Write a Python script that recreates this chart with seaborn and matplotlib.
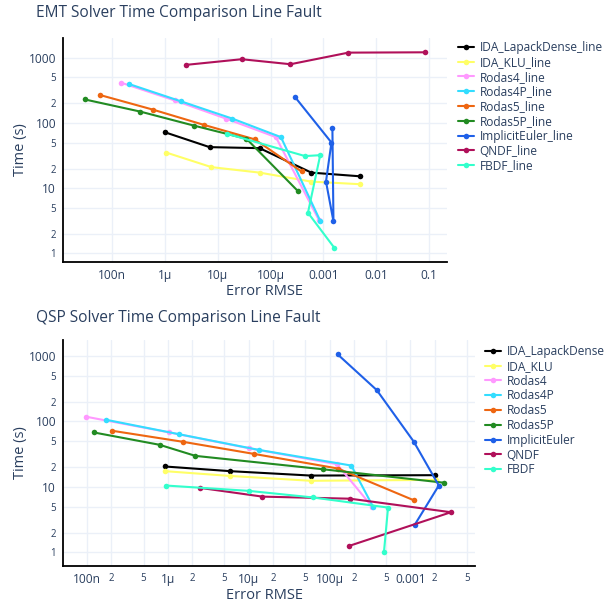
import matplotlib
matplotlib.use("Agg")
import matplotlib.pyplot as plt
import seaborn as sns
import pandas as pd
import numpy as np
from matplotlib.ticker import NullLocator

# ---------------- data ----------------
solvers = ["IDA_LapackDense", "IDA_KLU", "Rodas4", "Rodas4P", "Rodas5",
           "Rodas5P", "ImplicitEuler", "QNDF", "FBDF"]

# EMT (top)
emt_x = {
    "IDA_LapackDense": [9.9e-7, 7.0e-6, 6.2e-5, 5.9e-4, 4.9e-3],
    "IDA_KLU":         [1.07e-6, 7.6e-6, 6.2e-5, 5.9e-4, 4.9e-3],
    "Rodas4":          [1.5e-7, 1.52e-6, 1.44e-5, 1.26e-4, 8.3e-4],
    "Rodas4P":         [2.1e-7, 2.0e-6, 1.9e-5, 1.57e-4, 8.8e-4],
    "Rodas5":          [5.9e-8, 5.85e-7, 5.5e-6, 5.0e-5, 3.85e-4],
    "Rodas5P":         [3.0e-8, 3.4e-7, 3.5e-6, 3.5e-5, 3.3e-4],
    "ImplicitEuler":   [2.9e-4, 1.42e-3, 1.12e-3, 1.55e-3, 1.48e-3],
    "QNDF":            [2.5e-6, 2.84e-5, 2.38e-4, 2.97e-3, 0.084],
    "FBDF":            [1.5e-5, 4.5e-4, 8.7e-4, 5.1e-4, 1.61e-3],
}
emt_y = {
    "IDA_LapackDense": [72, 42.5, 41, 17.3, 15.2],
    "IDA_KLU":         [35, 21, 17.3, 12.6, 11.5],
    "Rodas4":          [411, 221, 116, 60.5, 3.2],
    "Rodas4P":         [393, 214, 116, 60.5, 3.1],
    "Rodas5":          [267, 160, 93, 56, 18],
    "Rodas5P":         [229, 149, 91, 57, 9.0],
    "ImplicitEuler":   [249, 50, 12.6, 3.1, 84],
    "QNDF":            [773, 944, 791, 1191, 1205],
    "FBDF":            [68, 31, 32, 4.2, 1.22],
}

# QSP (bottom)
qsp_x = {
    "IDA_LapackDense": [9.2e-7, 5.9e-6, 5.85e-5, 2.0e-3],
    "IDA_KLU":         [9.2e-7, 5.9e-6, 5.85e-5, 2.1e-3],
    "Rodas4":          [9.8e-8, 1.04e-6, 1.0e-5, 1.24e-4, 3.36e-4],
    "Rodas4P":         [1.73e-7, 1.36e-6, 1.33e-5, 1.86e-4, 3.45e-4],
    "Rodas5":          [2.06e-7, 1.52e-6, 1.15e-5, 1.27e-4, 1.12e-3],
    "Rodas5P":         [1.21e-7, 7.9e-7, 2.19e-6, 8.3e-5, 2.58e-3],
    "ImplicitEuler":   [1.26e-4, 3.84e-4, 1.1e-3, 2.25e-3, 1.13e-3],
    "QNDF":            [2.52e-6, 1.48e-5, 1.80e-4, 3.18e-3, 1.74e-4],
    "FBDF":            [9.4e-7, 1.0e-5, 6.2e-5, 5.3e-4, 4.72e-4],
}
qsp_y = {
    "IDA_LapackDense": [20.5, 17.4, 14.9, 15.1],
    "IDA_KLU":         [17.4, 14.7, 12.4, 12.8],
    "Rodas4":          [118, 68, 39, 22.2, 5.0],
    "Rodas4P":         [106, 64, 36.8, 21.2, 5.0],
    "Rodas5":          [72, 49, 32, 19.1, 6.2],
    "Rodas5P":         [68, 44, 29.8, 18.6, 11.6],
    "ImplicitEuler":   [1061, 302, 49.4, 10.5, 2.62],
    "QNDF":            [9.65, 7.1, 6.6, 4.1, 1.25],
    "FBDF":            [10.5, 8.7, 6.9, 4.83, 1.02],
}

colors = ["#000000", "#ffff66", "#ff99ff", "#33ddff", "#ee6611",
          "#228b22", "#1f60e8", "#b0105a", "#33ffcc"]

y_ticks = [1, 2, 5, 10, 20, 50, 100, 200, 500, 1000]
y_labels = ["1", "2", "5", "10", "2", "5", "100", "2", "5", "1000"]
top_x_ticks = [1e-7, 1e-6, 1e-5, 1e-4, 1e-3, 1e-2, 1e-1]
top_x_labels = ["100n", "1μ", "10μ", "100μ", "0.001", "0.01", "0.1"]
bot_x_ticks = [1e-7, 2e-7, 5e-7, 1e-6, 2e-6, 5e-6, 1e-5, 2e-5, 5e-5,
               1e-4, 2e-4, 5e-4, 1e-3, 2e-3, 5e-3]
bot_x_labels = ["100n", "2", "5", "1μ", "2", "5", "10μ", "2", "5",
                "100μ", "2", "5", "0.001", "2", "5"]

def to_df(xd, yd, suffix):
    rows = []
    for s in solvers:
        for i, (xv, yv) in enumerate(zip(xd[s], yd[s])):
            rows.append({"solver": s + suffix, "order": i, "err": xv, "time": yv})
    return pd.DataFrame(rows)

df_top = to_df(emt_x, emt_y, "_line")
df_bot = to_df(qsp_x, qsp_y, "")

# ---------------- style ----------------
sns.set_theme(style="white")
plt.rcParams["font.family"] = ["Open Sans", "DejaVu Sans"]
TXT = "#2a3f5f"
GRID = "#ebf0f8"

fig = plt.figure(figsize=(6.09, 6.07), dpi=100)
W, H = 609, 607
ax1 = fig.add_axes([63 / W, 1 - 262 / H, 384 / W, 224 / H])
ax2 = fig.add_axes([63 / W, 1 - 566 / H, 412 / W, 226 / H])

def draw(ax, df, suffix, xlim, ylim, xt, xl, legend_xy):
    order = [s + suffix for s in solvers]
    pal = dict(zip(order, colors))
    sns.lineplot(data=df, x="err", y="time", hue="solver", hue_order=order,
                 palette=pal, sort=False, estimator=None, units="solver",
                 marker="o", markersize=4, markeredgewidth=0, lw=1.5,
                 legend=False, ax=ax)
    ax.set_xscale("log")
    ax.set_yscale("log")
    ax.set_xlim(*xlim)
    ax.set_ylim(*ylim)
    ax.set_xticks(xt, xl)
    ax.set_yticks(y_ticks, y_labels)
    ax.xaxis.set_minor_locator(NullLocator())
    ax.yaxis.set_minor_locator(NullLocator())
    for lbl in ax.get_xticklabels():
        lbl.set_fontsize(8.6 if len(lbl.get_text()) > 1 else 7.0)
        lbl.set_color(TXT)
    for lbl in ax.get_yticklabels():
        lbl.set_fontsize(8.6 if len(lbl.get_text()) > 1 else 7.0)
        lbl.set_color(TXT)
    ax.tick_params(axis="both", length=0, pad=5)
    ax.grid(True, color=GRID, lw=1)
    ax.set_axisbelow(True)
    for sp in ["top", "right"]:
        ax.spines[sp].set_visible(False)
    for sp in ["left", "bottom"]:
        ax.spines[sp].set_color("#000000")
        ax.spines[sp].set_linewidth(1.3)
    ax.set_xlabel("Error RMSE", fontsize=10.5, color=TXT)
    ax.set_ylabel("Time (s)", fontsize=10.5, color=TXT)
    handles = ax.lines[:len(order)]
    fig.legend(handles, order, loc="upper left",
               bbox_to_anchor=legend_xy, frameon=False, fontsize=8.6,
               handlelength=1.3, handletextpad=0.5, labelspacing=0.15,
               borderaxespad=0, borderpad=0, labelcolor=TXT)

draw(ax1, df_top, "_line", (10 ** -7.93, 10 ** -0.66), (10 ** -0.131, 10 ** 3.30),
     top_x_ticks, top_x_labels, (458 / W, 1 - 41 / H))
draw(ax2, df_bot, "", (10 ** -7.297, 10 ** -2.2), (10 ** -0.209, 10 ** 3.245),
     bot_x_ticks, bot_x_labels, (485 / W, 1 - 345 / H))

ax1.xaxis.set_label_coords((265 - 63) / 384, -(284 - 262) / 224)
ax1.yaxis.set_label_coords(-(63 - 28) / 384, 0.5)
ax2.xaxis.set_label_coords((265 - 63) / 412, -(588 - 566) / 226)
ax2.yaxis.set_label_coords(-(63 - 28) / 412, 0.5)

fig.text(36 / W, 1 - 13 / H, "EMT Solver Time Comparison Line Fault",
         fontsize=11.2, color=TXT, va="center", ha="left")
fig.text(36 / W, 1 - 318 / H, "QSP Solver Time Comparison Line Fault",
         fontsize=11.2, color=TXT, va="center", ha="left")

fig.savefig("out.png", dpi=100, facecolor="white")
